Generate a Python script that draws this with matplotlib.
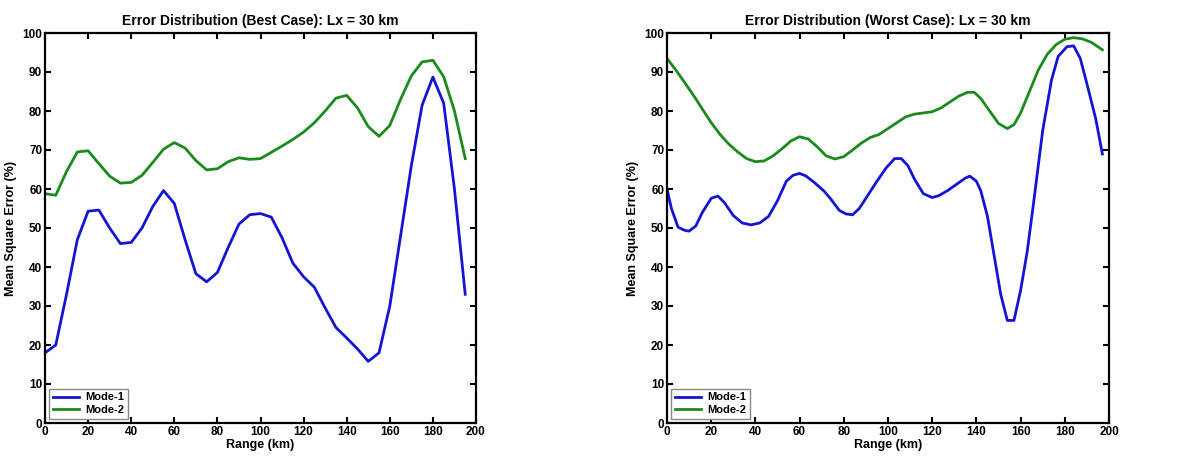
import matplotlib
matplotlib.use("Agg")
import matplotlib.pyplot as plt

plt.rcParams['font.family'] = ['Liberation Sans', 'DejaVu Sans']
plt.rcParams['font.weight'] = 'bold'

# ---- Best case (left) ----
best_range = [0, 5, 10, 15, 20, 25, 30, 35, 40, 45, 50, 55, 60, 65, 70, 75, 80, 85, 90, 95,
              100, 105, 110, 115, 120, 125, 130, 135, 140, 145, 150, 155, 160, 165, 170, 175,
              180, 185, 190, 195]
best_mode1 = [18, 20, 33, 47, 54.3, 54.6, 50, 46, 46.3, 50, 55.5, 59.6, 56.3, 47, 38.3, 36.2,
              38.6, 45, 51, 53.4, 53.7, 52.8, 47.5, 41, 37.5, 34.8, 29.5, 24.5, 21.8, 19, 15.8,
              18, 30, 48, 66, 81.5, 88.7, 82, 60, 33]
best_mode2 = [58.8, 58.4, 64.5, 69.5, 69.8, 66.5, 63.3, 61.5, 61.7, 63.5, 66.8, 70.2, 71.9,
              70.5, 67.3, 64.9, 65.2, 67, 68, 67.6, 67.8, 69.4, 71, 72.7, 74.6, 77, 80, 83.3,
              84, 80.8, 76, 73.5, 76.3, 83, 89, 92.6, 93, 88.8, 80, 67.8]

# ---- Worst case (right) ----
worst_range1 = [0, 2, 5, 8, 10, 13, 16, 20, 23, 26, 30, 34, 38, 42, 46, 50, 54, 57, 60, 63,
                67, 71, 74, 78, 81, 84, 87, 91, 95, 99, 103, 106, 109, 112, 116, 120, 123,
                127, 131, 135, 137, 140, 142, 145, 148, 151, 154, 157, 160, 163, 166, 170,
                174, 177, 181, 184, 187, 190, 194, 197]
worst_mode1 = [60, 55, 50.2, 49.4, 49.2, 50.5, 54, 57.6, 58.2, 56.5, 53.2, 51.3, 50.8, 51.3,
               53, 57, 62, 63.5, 64, 63.3, 61.5, 59.5, 57.5, 54.5, 53.6, 53.4, 55, 58.5, 62,
               65.3, 67.8, 67.8, 66, 62.5, 58.8, 57.8, 58.3, 59.6, 61.2, 62.8, 63.3, 62,
               59.5, 53, 43, 33, 26.3, 26.3, 34, 44, 57, 75, 88, 94, 96.5, 96.7, 93.5, 87,
               78, 69]
worst_range2 = [0, 4, 8, 12, 16, 20, 24, 28, 32, 36, 40, 44, 48, 52, 56, 60, 64, 68, 72, 76,
                80, 84, 88, 92, 96, 100, 104, 108, 112, 116, 120, 124, 128, 132, 136, 139,
                142, 146, 150, 154, 157, 160, 164, 168, 172, 176, 180, 184, 188, 192, 197]
worst_mode2 = [93.5, 90.5, 87.3, 84, 80.5, 77, 74, 71.5, 69.5, 67.8, 67, 67.2, 68.5, 70.3,
               72.3, 73.4, 72.8, 70.8, 68.5, 67.7, 68.3, 70, 71.8, 73.2, 74, 75.5, 77, 78.5,
               79.2, 79.5, 79.8, 80.8, 82.3, 83.8, 84.8, 84.8, 83.2, 80, 76.8, 75.5, 76.5,
               79.5, 85, 90.5, 94.5, 97, 98.4, 98.8, 98.5, 97.6, 95.7]

xticks = [0, 20, 40, 60, 80, 100, 120, 140, 160, 180, 200]
yticks = [0, 10, 20, 30, 40, 50, 60, 70, 80, 90, 100]

blue = '#1414d2'
green = '#1c8a1c'

fig = plt.figure(figsize=(11.85, 4.59), dpi=100)
ax1 = fig.add_axes([45 / 1185, 36 / 459, 431 / 1185, 390 / 459])
ax2 = fig.add_axes([667 / 1185, 36 / 459, 442 / 1185, 390 / 459])

panels = [
    (ax1, best_range, best_mode1, best_range, best_mode2,
     'Error Distribution (Best Case): Lx = 30 km'),
    (ax2, worst_range1, worst_mode1, worst_range2, worst_mode2,
     'Error Distribution (Worst Case): Lx = 30 km'),
]

for ax, xa, ya, xb, yb, title in panels:
    ax.plot(xa, ya, color=blue, lw=2.0, label='Mode-1')
    ax.plot(xb, yb, color=green, lw=2.0, label='Mode-2')
    ax.set_xlim(0, 200)
    ax.set_ylim(0, 100)
    ax.set_xticks(xticks)
    ax.set_yticks(yticks)
    ax.tick_params(direction='in', top=True, right=True, length=4, width=1.5,
                   labelsize=8.5, pad=2)
    for lab in ax.get_xticklabels() + ax.get_yticklabels():
        lab.set_fontweight('bold')
    for sp in ax.spines.values():
        sp.set_linewidth(1.6)
    ax.set_title(title, fontsize=10, fontweight='bold', pad=6)
    ax.set_xlabel('Range (km)', fontsize=9, fontweight='bold', labelpad=1)
    ax.set_ylabel('Mean Square Error (%)', fontsize=9, fontweight='bold', labelpad=4)
    leg = ax.legend(loc='lower left', fontsize=8, handlelength=2.3, borderpad=0.35,
                    labelspacing=0.2, fancybox=False, framealpha=1,
                    borderaxespad=0.4, handletextpad=0.6)
    leg.get_frame().set_edgecolor('#888888')
    leg.get_frame().set_linewidth(1.0)
    for t in leg.get_texts():
        t.set_fontweight('bold')

fig.savefig('out.png', dpi=100)
